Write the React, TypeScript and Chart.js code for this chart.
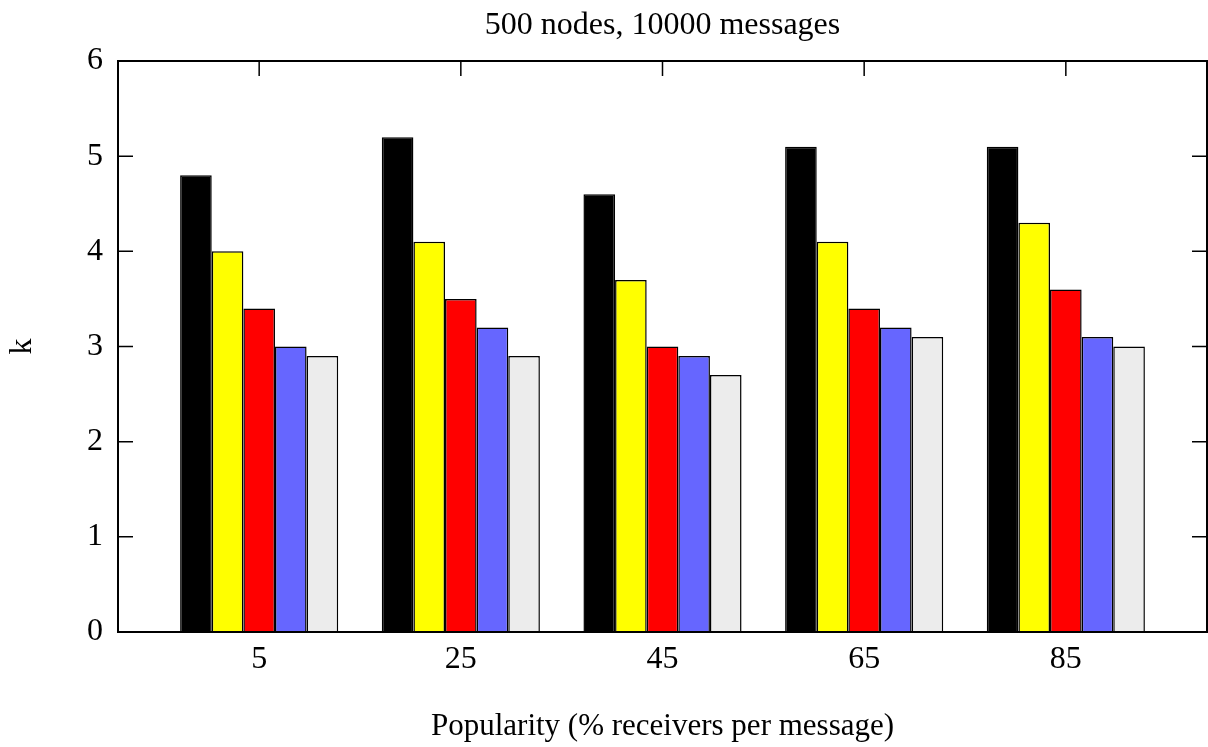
import React, { useEffect, useRef } from "react";
import { Chart, registerables } from "chart.js";

Chart.register(...registerables);

const categories: string[] = ["5", "25", "45", "65", "85"];
const seriesA: number[] = [4.8, 5.2, 4.6, 5.1, 5.1];
const seriesB: number[] = [4.0, 4.1, 3.7, 4.1, 4.3];
const seriesC: number[] = [3.4, 3.5, 3.0, 3.4, 3.6];
const seriesD: number[] = [3.0, 3.2, 2.9, 3.2, 3.1];
const seriesE: number[] = [2.9, 2.9, 2.7, 3.1, 3.0];
const seriesColors: string[] = ["#000000", "#ffff00", "#ff0000", "#6666ff", "#ececec"];
const yTicks: number[] = [0, 1, 2, 3, 4, 5, 6];

const titleText = "500 nodes, 10000 messages";
const xTitle = "Popularity (% receivers per message)";
const yTitle = "k";
const FONT = "'Liberation Serif', 'Times New Roman', serif";
const FS = 32;

const framePlugin = {
  id: "gnuFrame",
  afterDatasetsDraw(chart: any) {
    const { ctx, chartArea, scales } = chart;
    const { left, right, top, bottom } = chartArea;
    ctx.save();
    ctx.strokeStyle = "#000";
    ctx.lineWidth = 1.5;
    const tl = 15;
    ctx.beginPath();
    for (const v of yTicks) {
      const y = scales.y.getPixelForValue(v);
      ctx.moveTo(left, y);
      ctx.lineTo(left + tl, y);
      ctx.moveTo(right, y);
      ctx.lineTo(right - tl, y);
    }
    categories.forEach((_, i) => {
      const x = scales.x.getPixelForValue(i);
      ctx.moveTo(x, top);
      ctx.lineTo(x, top + tl);
    });
    ctx.stroke();
    ctx.lineWidth = 2;
    ctx.strokeRect(left, top, right - left, bottom - top);
    ctx.restore();
  },
};

export default function App() {
  const canvasRef = useRef<HTMLCanvasElement | null>(null);

  useEffect(() => {
    document.body.style.margin = "0";
    const canvas = canvasRef.current;
    if (!canvas) return;
    Chart.defaults.color = "#000";
    const all = [seriesA, seriesB, seriesC, seriesD, seriesE];
    const chart = new Chart(canvas, {
      type: "bar",
      data: {
        datasets: all.map((arr, k) => ({
          label: "s" + (k + 1),
          data: arr.map((v, i) => ({ x: i, y: v })),
          backgroundColor: seriesColors[k],
          borderColor: "#000",
          borderWidth: 1.5,
          categoryPercentage: 0.784,
          barPercentage: 1,
        })),
      },
      options: {
        responsive: false,
        animation: false,
        layout: { padding: { left: 0, right: 1, top: 0, bottom: 0 } },
        plugins: {
          legend: { display: false },
          tooltip: { enabled: false },
          title: {
            display: true,
            fullSize: false,
            text: titleText,
            color: "#000",
            font: { family: FONT, size: FS, weight: "normal" },
            padding: { top: 6, bottom: 16.6 },
          },
        },
        scales: {
          x: {
            type: "linear",
            min: -0.7,
            max: 4.7,
            offset: false,
            grid: { display: false, drawTicks: false, offset: false },
            border: { display: false },
            afterBuildTicks: (s: any) => {
              s.ticks = categories.map((_, i) => ({ value: i }));
            },
            afterFit: (s: any) => {
              s.height = 115;
            },
            ticks: {
              padding: 8,
              maxRotation: 0,
              autoSkip: false,
              font: { family: FONT, size: FS },
              color: "#000",
              callback: (v: any) => categories[Math.round(Number(v))] ?? "",
            },
            title: {
              display: true,
              text: xTitle,
              color: "#000",
              font: { family: FONT, size: 31 },
              padding: { top: 0, bottom: 1.5 },
            },
          },
          y: {
            min: 0,
            max: 6,
            grid: { display: false, drawTicks: false },
            border: { display: false },
            afterBuildTicks: (s: any) => {
              s.ticks = yTicks.map((v) => ({ value: v }));
            },
            afterFit: (s: any) => {
              s.width = 118;
            },
            ticks: {
              padding: 15,
              font: { family: FONT, size: FS },
              color: "#000",
            },
            title: {
              display: true,
              text: yTitle,
              color: "#000",
              font: { family: FONT, size: FS },
              padding: { top: 3, bottom: 0 },
            },
          },
        },
      },
      plugins: [framePlugin],
    } as any);
    return () => chart.destroy();
  }, []);

  return (
    <div style={{ width: 1208, height: 747 }}>
      <canvas ref={canvasRef} width={1208} height={747} style={{ display: "block" }} />
    </div>
  );
}
